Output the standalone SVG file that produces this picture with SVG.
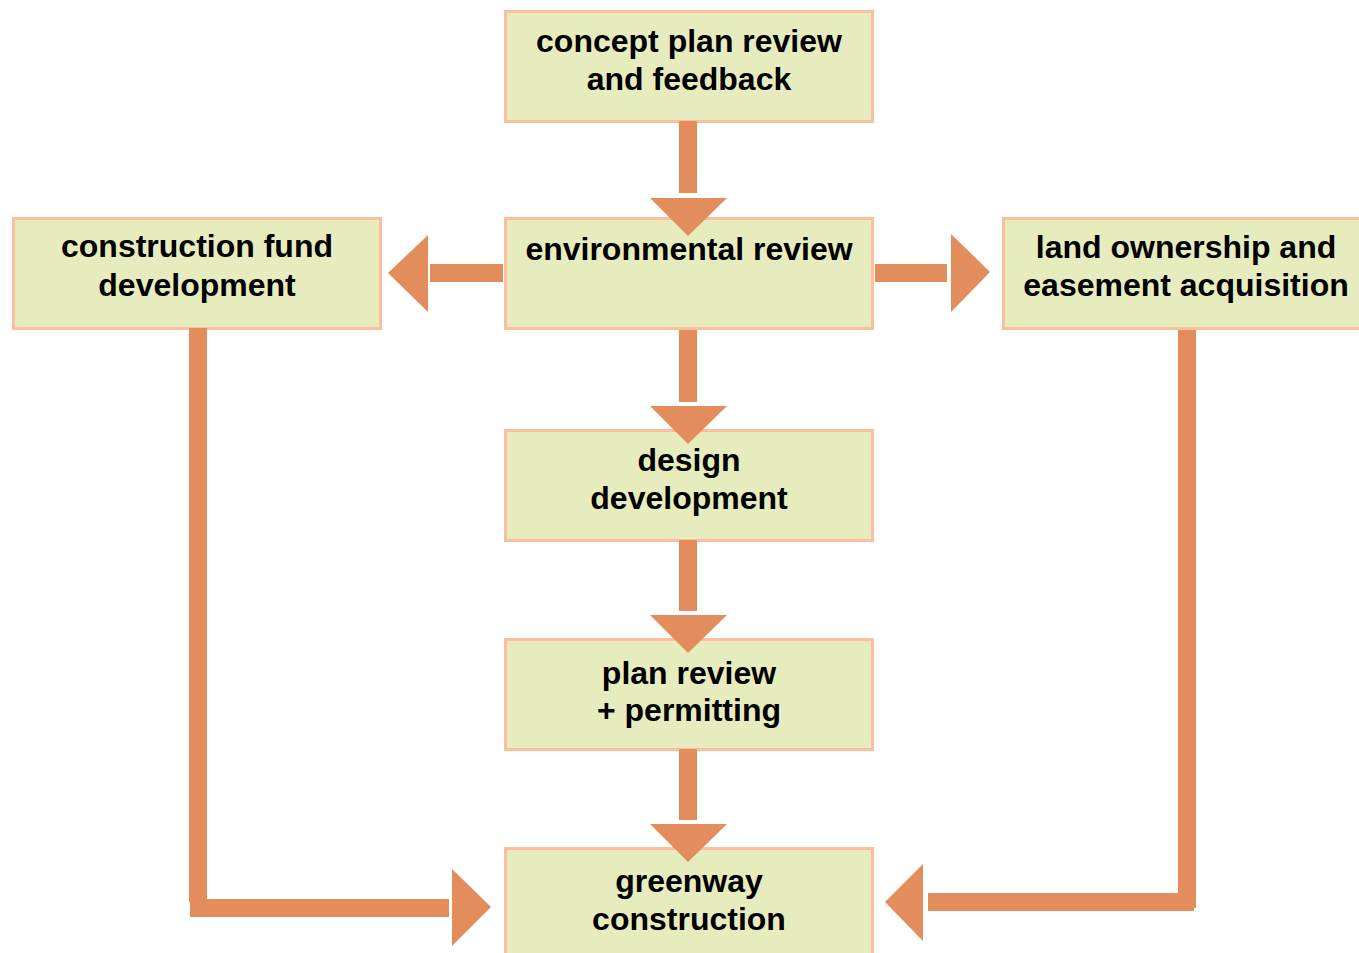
<svg xmlns="http://www.w3.org/2000/svg" width="1359" height="953" viewBox="0 0 1359 953">
<style>
.box{fill:#e7ecbf;stroke:#f9bf9f;stroke-width:3}
.t{font-family:"Liberation Sans",Arial,sans-serif;font-weight:bold;font-size:32px;fill:#000;text-anchor:middle}
.a{fill:#e38c5c}
</style>
<rect width="1359" height="953" fill="#fff"/>
<g id="concept"><rect class="box" x="505.5" y="11.5" width="367" height="110"/>
<text class="t" x="689" y="52">concept plan review</text><text class="t" x="689" y="90">and feedback</text></g>
<g id="environmental"><rect class="box" x="505.5" y="218.5" width="367" height="110"/>
<text class="t" x="689" y="260">environmental review</text></g>
<g id="fund"><rect class="box" x="13.5" y="218.5" width="367" height="110"/>
<text class="t" x="197" y="257">construction fund</text><text class="t" x="197" y="296">development</text></g>
<g id="land"><rect class="box" x="1003.5" y="218.5" width="370" height="110"/>
<text class="t" x="1186" y="258">land ownership and</text><text class="t" x="1186" y="296">easement acquisition</text></g>
<g id="design"><rect class="box" x="505.5" y="430.5" width="367" height="110"/>
<text class="t" x="689" y="471">design</text><text class="t" x="689" y="509">development</text></g>
<g id="plan"><rect class="box" x="505.5" y="639.5" width="367" height="110"/>
<text class="t" x="689" y="684">plan review</text><text class="t" x="689" y="721">+ permitting</text></g>
<g id="greenway"><rect class="box" x="505.5" y="848.5" width="367" height="115"/>
<text class="t" x="689" y="892">greenway</text><text class="t" x="689" y="930">construction</text></g>
<g id="connectors">
<rect class="a" x="679" y="121" width="18" height="72"/>
<polygon class="a" points="650,198 727,198 688,236"/>
<rect class="a" x="679" y="330" width="18" height="72"/>
<polygon class="a" points="650,406 727,406 688,444"/>
<rect class="a" x="679" y="540" width="18" height="71"/>
<polygon class="a" points="650,615 727,615 688,653"/>
<rect class="a" x="679" y="749" width="18" height="71"/>
<polygon class="a" points="650,824 727,824 688,862"/>
<rect class="a" x="430" y="264" width="73" height="18"/>
<polygon class="a" points="428,235 428,312 388,273"/>
<rect class="a" x="875" y="264" width="72" height="18"/>
<polygon class="a" points="951,234 951,312 990,272"/>
<rect class="a" x="189" y="328" width="18" height="574"/>
<rect class="a" x="190" y="899" width="259" height="18"/>
<polygon class="a" points="452,869 452,946 491,907"/>
<rect class="a" x="1178" y="330" width="18" height="578"/>
<rect class="a" x="928" y="893" width="266" height="18"/>
<polygon class="a" points="923,864 923,941 885,902"/>
</g>
</svg>
